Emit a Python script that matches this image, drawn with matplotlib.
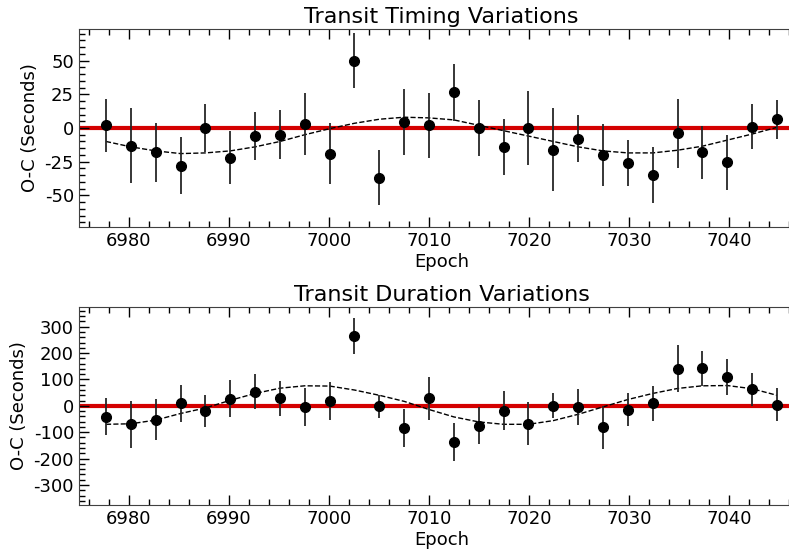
import matplotlib
matplotlib.use("Agg")
from matplotlib import pyplot as plt
from matplotlib.ticker import MultipleLocator

plt.rcParams["axes.unicode_minus"] = False

# epochs of the transits
epoch = [6977.70, 6980.19, 6982.67, 6985.16, 6987.64, 6990.13, 6992.61, 6995.10,
         6997.58, 7000.07, 7002.55, 7005.04, 7007.52, 7010.01, 7012.49, 7014.98,
         7017.46, 7019.95, 7022.43, 7024.92, 7027.40, 7029.89, 7032.37, 7034.86,
         7037.34, 7039.83, 7042.31, 7044.80]

# transit timing variations (seconds)
ttv = [2, -13, -18, -28, 0, -22, -6, -5, 3, -19, 50, -37,
       4.5, 2, 26.5, 0, -14, 0, -16, -8, -20, -26, -35, -4,
       -18, -25.5, 1, 6.5]
ttv_err = [19.5, 27.5, 22, 21, 18, 19.5, 18, 18, 23, 22.5, 20.5, 20.5,
           24.5, 24, 21, 21, 21, 27.5, 30.5, 17.5, 23, 17, 21, 25.5,
           19.5, 20.5, 16.5, 14.5]
ttv_model = [-10, -14, -17, -19, -18.5, -17, -14, -10, -5, -0.5, 3.5, 6.5,
             8, 7.5, 6, 2, -2, -6, -10, -14, -17, -18.5, -18.5, -16.5,
             -13.5, -9, -4.5, 0.5]

# transit duration variations (seconds)
tdv = [-42, -70, -52, 9, -19, 27, 54, 29, -5, 18, 266, -1,
       -83, 29, -138, -76, -18, -68, 1, -5, -82, -15, 9, 140,
       142, 110, 63, 5]
tdv_err = [70, 88, 77, 70, 62, 71, 65, 67, 72, 73, 68, 44,
           72, 82, 72, 70, 74, 81, 46, 68, 80, 63, 67, 89,
           66, 67, 63, 61]
tdv_model = [-70, -68, -54, -29, -8, 21, 47, 67, 76, 75, 60, 40,
             17, -14, -42, -61, -70, -70, -56, -32, -4, 24, 47, 66,
             76, 77, 65, 40]

fig = plt.figure(figsize=(7.89, 5.53), dpi=100)
# the axes run a little past the right edge of the figure, as in the original
ax1 = fig.add_axes([0.1001, 0.5895, 0.9189, 0.3581])
ax2 = fig.add_axes([0.1001, 0.0868, 0.9189, 0.3586])

panels = [(ax1, ttv, ttv_err, ttv_model, "Transit Timing Variations", 73.5, 25, 5),
          (ax2, tdv, tdv_err, tdv_model, "Transit Duration Variations", 376, 100, 20)]

for ax, val, err, model, title, lim, major, minor in panels:
    ax.axhline(0, color="#d40000", lw=3, zorder=1)
    ax.plot(epoch, model, "k--", lw=1, zorder=2)
    ax.errorbar(epoch, val, yerr=err, fmt="o", color="k", ecolor="0.15",
                ms=7, elinewidth=1.3, capsize=0, zorder=3)
    ax.set_xlim(6975, 7047.5)
    ax.set_ylim(-lim, lim)
    ax.xaxis.set_major_locator(MultipleLocator(10))
    ax.xaxis.set_minor_locator(MultipleLocator(2))
    ax.yaxis.set_major_locator(MultipleLocator(major))
    ax.yaxis.set_minor_locator(MultipleLocator(minor))
    ax.tick_params(which="both", direction="in", top=True, right=True, labelsize=13)
    ax.tick_params(which="major", length=7, width=1)
    ax.tick_params(which="minor", length=4, width=1)
    for s in ax.spines.values():
        s.set_color("0.25")
    ax.set_xlabel("Epoch", fontsize=13, labelpad=2)
    ax.set_ylabel("O-C (Seconds)", fontsize=13)
    ax.set_title(title, fontsize=16, pad=4)

fig.savefig("out.png", dpi=100)
